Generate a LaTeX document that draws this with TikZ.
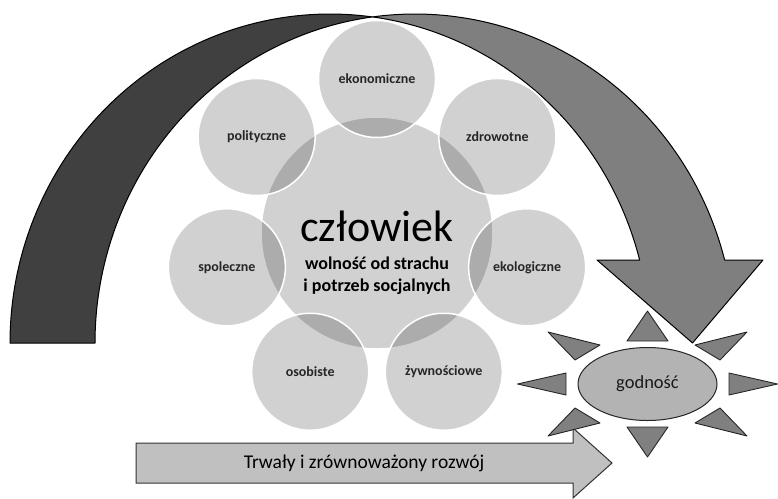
\documentclass[tikz,border=0pt]{standalone}
\usepackage{fontspec}
\setmainfont{Carlito}
\usetikzlibrary{shapes.geometric}
\definecolor{bandgray}{HTML}{404040}
\definecolor{arrowgray}{HTML}{7F7F7F}
\definecolor{raygray}{HTML}{808080}
\definecolor{ellgray}{HTML}{B3B3B3}
\definecolor{barrow}{HTML}{C0C0C0}
\definecolor{labelcol}{HTML}{262626}
\begin{document}
\begin{tikzpicture}[x=1pt,y=-1pt,
  bigshape/.style={draw=black,line width=1pt,line join=round},
  bubble/.style={circle,fill=black!90,fill opacity=0.2,text opacity=1,draw=white,draw opacity=1,line width=1.5pt,minimum size=117,inner sep=0pt,text=labelcol,font=\fontsize{14}{16}\selectfont\bfseries},
  hub/.style={circle,fill=black!90,fill opacity=0.2,draw=white,draw opacity=1,line width=1.5pt,minimum size=232,inner sep=0pt},
  ray/.style={draw=black!85,fill=raygray,line width=0.9pt,line join=round},
  txt/.style={inner sep=0pt,text=black}]
\useasboundingbox (0,0) rectangle (778,498);
% dark band of the curved arrow
\fill[bandgray] plot[domain=180:82.37,samples=80] ({330+320*cos(\x)},{343-329*sin(\x)})
  -- plot[domain=97.63:180,samples=80] ({415+320*cos(\x)},{343-329*sin(\x)}) -- cycle;
\draw[bigshape] plot[domain=180:82.37,samples=80] ({330+320*cos(\x)},{343-329*sin(\x)})
  -- plot[domain=97.63:180,samples=80] ({415+320*cos(\x)},{343-329*sin(\x)}) -- cycle;
% light part with arrow head
\draw[bigshape,fill=arrowgray] plot[domain=97.63:14.61,samples=100] ({415+320*cos(\x)},{343-329*sin(\x)})
  -- (763,260) -- (692.5,343) -- (597,260)
  -- plot[domain=14.61:82.37,samples=100] ({330+320*cos(\x)},{343-329*sin(\x)}) -- cycle;
% circles
\node[hub] (hub) at (377,233) {};
\node[txt,font=\fontsize{44}{44}\selectfont] (czl) at (377,226) {człowiek};
\node[txt,font=\fontsize{18}{22}\selectfont\bfseries,align=center] (wol) at (377,276) {wolność od strachu\\i potrzeb socjalnych};
\foreach \a/\t/\n in {90/ekonomiczne/eko,141.43/polityczne/pol,192.86/spoleczne/spo,244.29/osobiste/oso,295.71/żywnościowe/zyw,347.14/ekologiczne/ekl,38.57/zdrowotne/zdr}{
  \node[bubble] (\n) at ({377+154*cos(\a)},{233-154*sin(\a)}) {\t};
}
% bottom arrow
\draw[draw=black!80,fill=barrow,line width=1pt,line join=miter] (136,443) -- (573,443) -- (573,428) -- (612,463) -- (573,498) -- (573,483) -- (136,483) -- cycle;
\node[txt,font=\fontsize{19.5}{19.5}\selectfont] (roz) at (364,463) {Trwały i zrównoważony rozwój};
% sun
\begin{scope}[shift={(647.5,384)}]
\draw[ray] (-20.5,-43) -- (0,-73) -- (20.5,-43) -- cycle;
\draw[ray] (-20.5,43) -- (0,73) -- (20.5,43) -- cycle;
\draw[ray] (81.5,-11) -- (130,0) -- (81.5,11) -- cycle;
\draw[ray] (-81.5,-11) -- (-130,0) -- (-81.5,11) -- cycle;
\draw[ray] (47.5,-39) -- (99.5,-52) -- (72.5,-24) -- cycle;
\draw[ray] (-47.5,-39) -- (-99.5,-52) -- (-72.5,-24) -- cycle;
\draw[ray] (47.5,39) -- (99.5,52) -- (72.5,24) -- cycle;
\draw[ray] (-47.5,39) -- (-99.5,52) -- (-72.5,24) -- cycle;
\end{scope}
\node[ellipse,draw=black!85,line width=1pt,fill=ellgray,minimum width=139,minimum height=73,inner sep=0pt,font=\fontsize{18.5}{18.5}\selectfont,text=black!90] (god) at (647.5,384) {godność};
\end{tikzpicture}
\end{document}
